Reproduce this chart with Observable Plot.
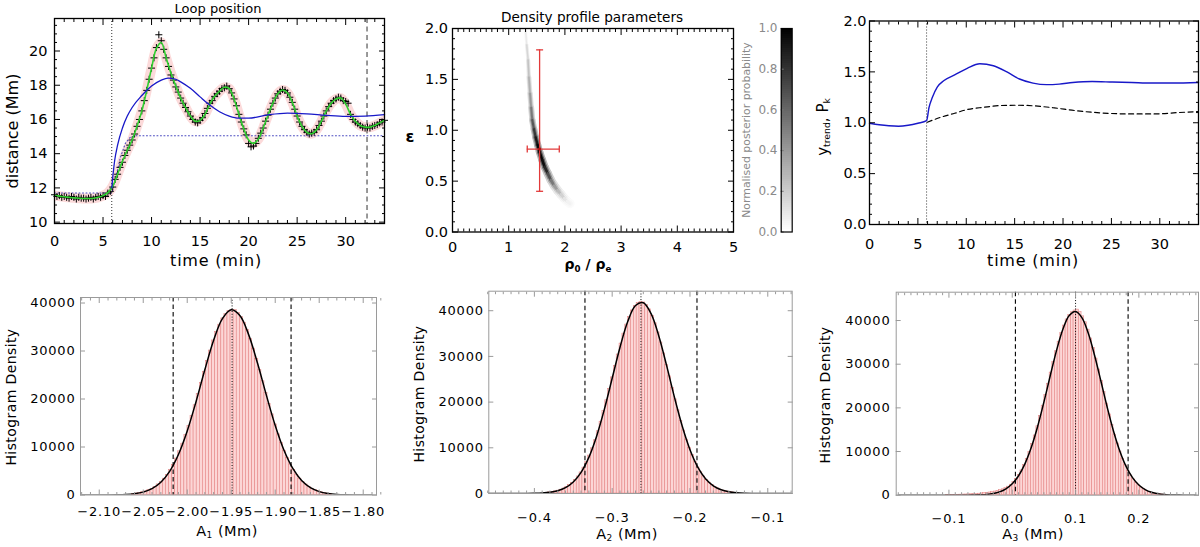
<!DOCTYPE html>
<html><head><meta charset="utf-8">
<script src="https://cdn.jsdelivr.net/npm/d3@7"></script>
<script src="https://cdn.jsdelivr.net/npm/@observablehq/plot@0.6"></script>
<style>
body{margin:0;background:#fff;}
#root{position:relative;width:1200px;height:547px;overflow:hidden;font-family:"DejaVu Sans",sans-serif;color:#000;background:#fff;}
.panel{position:absolute;}
.lbl{position:absolute;transform:translate(-50%,-50%);white-space:nowrap;line-height:1;}
.rot{transform:translate(-50%,-50%) rotate(-90deg);}
sub{font-size:0.62em;vertical-align:-0.3em;line-height:0;}
</style></head><body><div id="root"></div>
<script>
// ---------------- DATA ----------------
// Loop position (top-left)
const obsStep = 0.25;            // minutes between observed samples
const loopObs = [11.60,11.50,11.55,11.45,11.50,11.45,11.40,11.50,11.45,11.35,11.45,11.40,11.40,11.35,11.40,11.45,11.35,11.45,11.50,11.45,11.55,11.50,11.70,11.80,
 12.05,12.50,12.80,13.20,13.50,13.90,14.20,14.50,14.80,15.15,15.60,16.00,16.50,17.10,17.70,18.35,19.00,19.60,20.20,20.95,20.60,20.10,19.60,19.10,18.60,18.30,17.90,17.60,17.25,16.95,16.70,16.45,16.20,16.00,15.85,15.80,
 15.95,16.10,16.35,16.65,16.95,17.10,17.35,17.50,17.65,17.80,17.85,17.95,17.80,17.55,17.20,16.80,16.30,15.85,15.45,15.10,14.60,14.40,14.45,14.60,14.90,15.20,15.50,15.90,16.25,16.60,16.95,17.25,17.50,17.65,17.75,17.70,17.55,17.30,17.00,16.60,16.20,15.85,15.60,15.40,15.25,15.15,15.20,15.25,15.40,15.65,15.90,16.20,16.50,16.75,16.95,17.10,17.20,17.30,17.25,17.10,17.05,16.95,16.30,16.00,15.85,15.75,15.65,15.55,15.50,15.55,15.50,15.60,15.65,15.70,15.80,15.85,15.95];
const fitStep = 0.5;
const loopFit = [11.55,11.52,11.48,11.45,11.42,11.40,11.38,11.38,11.40,11.45,11.55,11.72,
 12.10,12.80,13.55,14.20,14.80,15.60,16.50,17.70,19.00,20.15,
 20.50,19.60,18.70,17.95,17.25,16.70,16.20,15.90,15.95,16.30,
 16.90,17.35,17.65,17.88,17.80,17.20,16.30,15.45,14.80,14.60,
 14.85,15.50,16.25,16.95,17.50,17.72,17.55,17.00,16.20,15.60,
 15.25,15.17,15.40,15.90,16.50,16.95,17.20,17.25,16.90,16.30,
 15.90,15.65,15.55,15.55,15.65,15.80,15.95];
const trendTime = [5.9,6.0,6.2,6.5,7.0,7.5,8.0,9.0,10.0,11.0,11.7,12.5,13.0,14.0,15.0,16.0,17.0,18.0,19.0,20.0,22.0,24.0,26.0,28.0,30.0,32.0,34.0];
const trendDist = [12.0,12.6,13.6,14.5,15.5,16.2,16.7,17.4,17.95,18.3,18.42,18.35,18.2,17.82,17.32,16.84,16.45,16.2,16.08,16.08,16.27,16.37,16.33,16.24,16.18,16.2,16.28];
const levelTime = [0,5.9,6.3,6.8,7.3,7.8,8.3,34];
const levelDist = [11.7,11.7,12.6,13.8,14.6,14.95,15.05,15.05];
const onsetTime = 5.9, cutTime = 32.2;

// Density profile parameters (top-middle)
const ridgeRatio = [1.30,1.32,1.345,1.36,1.38,1.40,1.42,1.45,1.48,1.515,1.55,1.595,1.64,1.695,1.75,1.81,1.87,1.93,1.99,2.04,2.09];
const ridgeEps   = [1.98,1.84,1.69,1.52,1.36,1.22,1.10,1.01,0.93,0.855,0.785,0.71,0.64,0.575,0.51,0.455,0.41,0.37,0.33,0.30,0.28];
const ridgeProb  = [0.05,0.12,0.20,0.27,0.35,0.45,0.60,0.72,0.85,0.95,1.00,0.98,0.92,0.78,0.60,0.45,0.32,0.22,0.13,0.07,0.03];
const bestRatio = 1.55, bestEps = 0.815, ratioRange = [1.33, 1.90], epsRange = [0.40, 1.79];

// y_trend and P_k (top-right)
const ytrendTime = [0,1,2,3,4,5,5.9,6.15,6.5,7.0,7.7,8.8,10.1,11.4,12.8,14.2,15.5,16.9,18.3,19.6,21.0,23.0,25.1,27.1,29.2,31.3,34];
const ytrendVal  = [0.995,0.98,0.97,0.966,0.975,0.995,1.02,1.15,1.25,1.35,1.415,1.47,1.535,1.58,1.56,1.50,1.43,1.39,1.375,1.38,1.395,1.405,1.40,1.395,1.39,1.39,1.395];
const pkTime = [5.97,7.4,8.8,10.1,11.8,13.5,15.3,17,19.1,21.2,23.9,26.7,29.5,31.9,34];
const pkVal  = [1.005,1.055,1.093,1.13,1.152,1.169,1.172,1.166,1.146,1.12,1.097,1.087,1.087,1.10,1.11];

// Histograms (bottom row)
const curveStep = 0.01;
const a1 = {binStart: -2.06275, binWidth: 0.0035, mean: -1.949, lo: -2.016, hi: -1.882, curveStart: -2.12,
  counts: [230,320,430,580,760,1000,1300,1700,2200,2700,3400,4200,5200,6300,7600,9100,10700,12500,14400,16500,18700,21000,23300,25600,27900,30100,32200,34000,35500,36800,37700,38300,38600,
           38500,37950,37100,35900,34400,32500,30500,28300,26000,23700,21300,19000,16800,14700,12650,10800,9200,7700,6350,5200,4200,3400,2700,2200,1700,1300,1000,760,570,420,310,220],
  curve: [0,1,3,12,35,98,253,600,1313,2652,4930,8450,13350,19440,26080,32240,36740,38580,37350,33310,27390,20750,14490,9320,5530,3020,1520,706,303,119,43,15,5,1.5]};
const a2 = {binStart: -0.382275, binWidth: 0.00367, mean: -0.263, lo: -0.335, hi: -0.191, curveStart: -0.46,
  counts: [250,340,470,620,830,1090,1420,1840,2350,2970,3730,4610,5660,6870,8300,9890,11650,13620,15710,18020,20410,22880,25410,27950,30420,32810,34990,36980,38670,40060,41060,41690,41900,
           41800,41250,40300,38900,37250,35250,33050,30650,28150,25650,23100,20600,18200,15900,13800,11800,10000,8400,6950,5700,4650,3750,3000,2370,1850,1430,1100,830,620,470,340,250],
  curve: [0,0,0.4,1.3,4.4,14,40,105,259,598,1275,2521,4638,7911,12545,18454,25211,31961,37640,41145,41760,39352,34430,27972,21088,14770,9595,5795,3247,1689,816,366,152,59,21,7,2,1,0,0]};
const a3 = {binStart: -0.1047, binWidth: 0.0042, mean: 0.100, lo: 0.005, hi: 0.183, curveStart: -0.18,
  counts: [60,70,80,90,100,120,140,160,180,210,250,290,340,400,460,530,620,720,840,980,1150,1350,1600,1950,2400,3000,
           3750,4630,5680,6900,8340,9940,11700,13680,15790,18100,20500,22990,25530,28080,30560,32960,35150,37150,38860,40250,41260,41890,42300,
           42500,41900,40950,39600,37900,35900,33700,31300,28800,26200,23600,21000,18500,16100,13900,11850,10000,8350,6850,5600,4520,3620,2870,2250,1750,1340,1010,760,560,410,300,215,150,100],
  curve: [0,0,0,0,0,0,0,0.2,0.6,1.7,4.8,13,33,78,176,376,761,1453,2618,4460,7178,10917,15690,21307,27352,33175,38005,41144,42088,40681,37153,32059,26144,20149,14663,10087,6555,4025,2337,1281,663,325,150,66,27,10,4,1]};

// Tick values
const timeTicks = [0,5,10,15,20,25,30];
const distTicks = [10,12,14,16,18,20];
const ratioTicks = [0,1,2,3,4,5];
const epsTicks = [0,0.5,1,1.5,2];
const probTicks = [0,0.2,0.4,0.6,0.8,1.0];
const countTicks = [0,10000,20000,30000,40000];
const a1Ticks = [-2.10,-2.05,-2.00,-1.95,-1.90,-1.85,-1.80];
const a2Ticks = [-0.4,-0.3,-0.2,-0.1];
const a3Ticks = [-0.1,0.0,0.1,0.2];

// ---------------- HELPERS ----------------
const root = document.getElementById("root");
function place(node, left, top, w, h) {
  const d = document.createElement("div");
  d.className = "panel";
  d.style.cssText = `left:${left}px;top:${top}px;width:${w}px;height:${h}px`;
  d.appendChild(node); root.appendChild(d);
}
function label(html, x, y, size, extra = "", rot = false) {
  const d = document.createElement("div");
  d.className = "lbl" + (rot ? " rot" : "");
  d.style.cssText = `left:${x}px;top:${y}px;font-size:${size}px;${extra}`;
  d.innerHTML = html; root.appendChild(d);
}
function minors(lo, hi, step, majors) {
  return d3.range(Math.round(lo / step), Math.round(hi / step) + 1)
    .map(i => +(i * step).toFixed(6))
    .filter(v => !majors.some(M => Math.abs(M - v) < step / 10));
}
function boxAxes(o) {
  const c = o.color || "black";
  const tk = {fill: "none", stroke: c, strokeWidth: 1, label: null};
  const out = [];
  for (const anchor of ["bottom", "top"]) {
    out.push(Plot.axisX({...tk, anchor, ticks: o.xMajor, tickSize: -o.major}));
    if (o.xMinor) out.push(Plot.axisX({...tk, anchor, ticks: o.xMinor, tickSize: -o.minor}));
  }
  for (const anchor of ["left", "right"]) {
    out.push(Plot.axisY({...tk, anchor, ticks: o.yMajor, tickSize: -o.major}));
    if (o.yMinor) out.push(Plot.axisY({...tk, anchor, ticks: o.yMinor, tickSize: -o.minor}));
  }
  out.push(Plot.axisX({anchor: "bottom", ticks: o.xMajor, tickSize: 0, tickPadding: o.xPad, tickFormat: o.xFmt, label: null, fill: "black"}));
  out.push(Plot.axisY({anchor: "left", ticks: o.yMajor, tickSize: 0, tickPadding: o.yPad, tickFormat: o.yFmt, label: null, fill: "black"}));
  return out;
}
const styleTop = {fontFamily: '"DejaVu Sans", sans-serif', fontSize: "14.5px", overflow: "visible", background: "transparent"};
const styleBot = {fontFamily: '"DejaVu Sans", sans-serif', fontSize: "13px", letterSpacing: "0.8px", overflow: "visible", background: "transparent"};

// ---------------- PANEL 1: Loop position ----------------
const obsData = loopObs.map((d, i) => ({t: i * obsStep, d}));
const fitData = loopFit.map((d, i) => ({t: i * fitStep, d}));
const trendData = trendTime.map((t, i) => ({t, d: trendDist[i]}));
const levelData = levelTime.map((t, i) => ({t, d: levelDist[i]}));

const p1 = Plot.plot({
  width: 400, height: 280, marginLeft: 54, marginRight: 16, marginTop: 18, marginBottom: 57,
  x: {domain: [0, 34]}, y: {domain: [9.92, 21.9]}, style: styleTop,
  marks: [
    Plot.line(fitData, {x: "t", y: "d", stroke: "#fcdada", strokeWidth: 10, curve: "catmull-rom", clip: true}),
    Plot.line(levelData, {x: "t", y: "d", stroke: "#4a4ac0", strokeWidth: 1.1, strokeDasharray: "1,2.5"}),
    Plot.ruleX([onsetTime], {stroke: "#333", strokeDasharray: "1,2"}),
    Plot.ruleX([cutTime], {stroke: "#333", strokeDasharray: "5,3.5"}),
    Plot.dot(obsData, {x: "t", y: "d", symbol: "plus", r: 2.4, stroke: "black", strokeWidth: 1}),
    Plot.line(fitData, {x: "t", y: "d", stroke: "#2fd02f", strokeWidth: 1.6, curve: "catmull-rom"}),
    Plot.line(trendData, {x: "t", y: "d", stroke: "#1818c8", strokeWidth: 1.3, curve: "monotone-x"}),
    ...boxAxes({xMajor: timeTicks, xMinor: minors(0, 34, 1, timeTicks), yMajor: distTicks, yMinor: minors(10, 21.5, 0.5, distTicks),
      major: 6, minor: 3, xPad: 12, yPad: 7, xFmt: "d", yFmt: "d"}),
    Plot.frame({stroke: "black", strokeWidth: 1.3})
  ]
});
place(p1, 0, 0, 400, 280);

// ---------------- PANEL 2: Density profile parameters ----------------
const segs = d3.range(ridgeRatio.length - 1).map(i => ({
  x1: ridgeRatio[i], y1: ridgeEps[i], x2: ridgeRatio[i + 1], y2: ridgeEps[i + 1],
  p: (ridgeProb[i] + ridgeProb[i + 1]) / 2, e: (ridgeEps[i] + ridgeEps[i + 1]) / 2
}));
const bw = d => 1.8 + 2.6 * (2 - d.e);
const grey = {type: "linear", domain: [0, 1], range: ["#ffffff", "#000000"]};
const red = "#e23a3a";
const hCap = {draw(ctx, size) { const r = Math.sqrt(size / Math.PI); ctx.moveTo(-r, 0); ctx.lineTo(r, 0); }};
const vCap = {draw(ctx, size) { const r = Math.sqrt(size / Math.PI); ctx.moveTo(0, -r); ctx.lineTo(0, r); }};
const linkOpts = {x1: "x1", y1: "y1", x2: "x2", y2: "y2", strokeLinecap: "round"};
const p2 = Plot.plot({
  width: 340, height: 280, marginLeft: 52, marginRight: 7, marginTop: 28, marginBottom: 48.5,
  x: {domain: [0, 5]}, y: {domain: [0, 2]}, color: grey, style: styleTop,
  marks: [
    Plot.link(segs, {...linkOpts, stroke: d => d.p * 0.3, strokeWidth: d => bw(d) * 1.5}),
    Plot.link(segs, {...linkOpts, stroke: d => d.p * 0.65, strokeWidth: d => bw(d) * 0.95}),
    Plot.link(segs, {...linkOpts, stroke: d => d.p, strokeWidth: d => bw(d) * 0.5}),
    Plot.link([{x1: bestRatio, x2: bestRatio, y1: epsRange[0], y2: epsRange[1]}], {...linkOpts, stroke: red, strokeWidth: 1.3}),
    Plot.link([{x1: ratioRange[0], x2: ratioRange[1], y1: bestEps, y2: bestEps}], {...linkOpts, stroke: red, strokeWidth: 1.3}),
    Plot.dot([{x: bestRatio, y: epsRange[0]}, {x: bestRatio, y: epsRange[1]}], {x: "x", y: "y", symbol: hCap, r: 3.5, fill: "none", stroke: red, strokeWidth: 1.3}),
    Plot.dot([{x: ratioRange[0], y: bestEps}, {x: ratioRange[1], y: bestEps}], {x: "x", y: "y", symbol: vCap, r: 3.5, fill: "none", stroke: red, strokeWidth: 1.3}),
    Plot.dot([{x: bestRatio, y: bestEps}], {x: "x", y: "y", r: 1.6, fill: "#b01010"}),
    ...boxAxes({xMajor: ratioTicks, xMinor: minors(0, 5, 0.1, ratioTicks), yMajor: epsTicks, yMinor: minors(0, 2, 0.1, epsTicks),
      major: 6, minor: 3, xPad: 10, yPad: 4.5, xFmt: "d", yFmt: ".1f"}),
    Plot.frame({stroke: "black", strokeWidth: 1.3})
  ]
});
place(p2, 400, 0, 340, 280);

// Colour bar
const levels = d3.range(0, 1, 0.01);
const cb = Plot.plot({
  width: 60, height: 280, marginLeft: 40.7, marginRight: 8.3, marginTop: 28, marginBottom: 48.5,
  x: {domain: [0, 1], axis: null}, y: {domain: [0, 1], axis: null}, color: grey,
  style: {...styleTop, fontSize: "12px"},
  marks: [
    Plot.rect(levels, {x1: 0, x2: 1, y1: d => d, y2: d => d + 0.0105, fill: d => d + 0.005, shapeRendering: "crispEdges"}),
    Plot.axisY({anchor: "left", ticks: probTicks, tickSize: -3, fill: "none", stroke: "#777", label: null}),
    Plot.axisY({anchor: "left", ticks: probTicks, tickSize: 0, tickPadding: 3.7, tickFormat: ".1f", fill: "#8a8a8a", label: null}),
    Plot.frame({stroke: "black", strokeWidth: 1.2})
  ]
});
place(cb, 740, 0, 60, 280);

// ---------------- PANEL 3: y_trend, P_k ----------------
const ytData = ytrendTime.map((t, i) => ({t, v: ytrendVal[i]}));
const pkData = pkTime.map((t, i) => ({t, v: pkVal[i]}));
const p3 = Plot.plot({
  width: 400, height: 280, marginLeft: 69, marginRight: 2, marginTop: 20.5, marginBottom: 56,
  x: {domain: [0, 34]}, y: {domain: [0, 2]}, style: styleTop,
  marks: [
    Plot.ruleX([onsetTime], {stroke: "#333", strokeDasharray: "1,2"}),
    Plot.line(pkData, {x: "t", y: "v", stroke: "black", strokeWidth: 1.2, strokeDasharray: "5,3.5", curve: "monotone-x"}),
    Plot.line(ytData, {x: "t", y: "v", stroke: "#1818c8", strokeWidth: 1.4, curve: "monotone-x"}),
    ...boxAxes({xMajor: timeTicks, xMinor: minors(0, 34, 1, timeTicks), yMajor: epsTicks, yMinor: minors(0, 2, 0.1, epsTicks),
      major: 6, minor: 3, xPad: 14, yPad: 3, xFmt: "d", yFmt: ".1f"}),
    Plot.frame({stroke: "black", strokeWidth: 1.3})
  ]
});
place(p3, 800, 0, 400, 280);

// ---------------- BOTTOM: histograms ----------------
function histPanel(h, o) {
  const bins = h.counts.map((c, i) => ({x1: h.binStart + i * h.binWidth, x2: h.binStart + (i + 1) * h.binWidth, c}));
  const curve = h.curve.map((v, i) => ({x: h.curveStart + i * curveStep, v}));
  return Plot.plot({
    width: 400, height: 267, marginLeft: o.ml, marginRight: o.mr, marginTop: o.mt, marginBottom: o.mb,
    x: {domain: o.xDomain}, y: {domain: o.yDomain}, style: styleBot,
    marks: [
      Plot.rectY(bins, {x1: "x1", x2: "x2", y: "c", fill: "#fcd6d6", stroke: "#e48080", strokeWidth: 0.55}),
      Plot.ruleX([h.lo, h.hi], {stroke: "black", strokeWidth: 1.1, strokeDasharray: "4.5,3"}),
      Plot.ruleX([h.mean], {stroke: "black", strokeWidth: 1, strokeDasharray: "1,1.8"}),
      Plot.line(curve, {x: "x", y: "v", stroke: "black", strokeWidth: 1.5, curve: "catmull-rom", clip: true}),
      ...boxAxes({xMajor: o.xTicks, xMinor: minors(o.xDomain[0], o.xDomain[1], 0.01, o.xTicks), yMajor: countTicks,
        color: "#9a9a9a", major: 5, minor: 2.5, xPad: o.xPad, yPad: o.yPad, xFmt: o.xFmt, yFmt: "d"}),
      Plot.frame({stroke: "#9a9a9a", strokeWidth: 1})
    ]
  });
}
place(histPanel(a1, {ml: 80, mr: 24, mt: 17, mb: 52.5, xDomain: [-2.1213, -1.7849], yDomain: [0, 41150], xTicks: a1Ticks, xFmt: ".2f", xPad: 12, yPad: 5}), 0, 280, 400, 267);
place(histPanel(a2, {ml: 88.3, mr: 8.3, mt: 10.7, mb: 54, xDomain: [-0.4586, -0.0686], yDomain: [0, 44270], xTicks: a2Ticks, xFmt: ".1f", xPad: 19, yPad: 5}), 400, 280, 400, 267);
place(histPanel(a3, {ml: 95.7, mr: 2, mt: 11.7, mb: 52.3, xDomain: [-0.1833, 0.2942], yDomain: [0, 46485], xTicks: a3Ticks, xFmt: ".1f", xPad: 18.5, yPad: 5.7}), 800, 280, 400, 267);

// ---------------- LABELS ----------------
label("Loop position", 218, 8, 13);
label("time (min)", 216, 261, 16, "letter-spacing:0.8px");
label("distance (Mm)", 12.5, 131, 16, "", true);
label("Density profile parameters", 592, 18, 13.6);
label("ρ<sub>0</sub> / ρ<sub>e</sub>", 588, 264, 14, "font-weight:bold");
label("ε", 410, 137, 16, "font-weight:bold");
label("Normalised posterior probability", 747, 130, 10.9, "color:#8a8a8a", true);
label("time (min)", 1033, 261, 16, "letter-spacing:0.8px");
label("y<sub>trend</sub>, P<sub>k</sub>", 823, 127, 15, "", true);
label("A<sub>1</sub> (Mm)", 227, 531, 14.5, "letter-spacing:0.5px");
label("Histogram Density", 11, 397, 14, "letter-spacing:0.4px", true);
label("A<sub>2</sub> (Mm)", 627, 534, 14.5, "letter-spacing:0.5px");
label("Histogram Density", 419, 394, 14, "letter-spacing:0.4px", true);
label("A<sub>3</sub> (Mm)", 1033, 533.5, 14.5, "letter-spacing:0.5px");
label("Histogram Density", 825, 395, 14, "letter-spacing:0.4px", true);
</script></body></html>
